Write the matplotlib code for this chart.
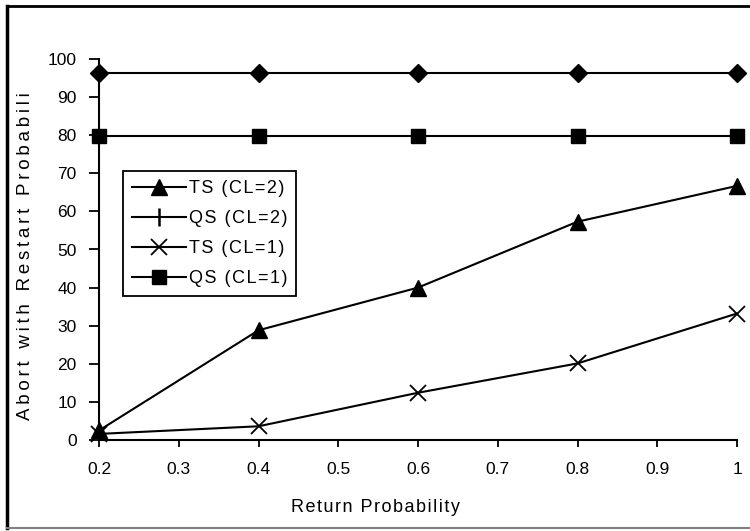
import matplotlib
matplotlib.use("Agg")
import matplotlib.pyplot as plt
from matplotlib.lines import Line2D

plt.rcParams['font.family'] = ['Liberation Sans', 'DejaVu Sans']

x = [0.2, 0.4, 0.6, 0.8, 1.0]
ts_cl2 = [2.5, 28.8, 40.0, 57.3, 66.7]
qs_cl2 = [96.2, 96.2, 96.2, 96.2, 96.2]
ts_cl1 = [1.6, 3.6, 12.4, 20.1, 33.2]
qs_cl1 = [79.8, 79.8, 79.8, 79.8, 79.8]

labels = ["TS (CL=2)", "QS (CL=2)", "TS (CL=1)", "QS (CL=1)"]
xticks = [0.2, 0.3, 0.4, 0.5, 0.6, 0.7, 0.8, 0.9, 1.0]
xticklabels = ["0.2", "0.3", "0.4", "0.5", "0.6", "0.7", "0.8", "0.9", "1"]
yticks = [0, 10, 20, 30, 40, 50, 60, 70, 80, 90, 100]

HS = "\u200a"

fig = plt.figure(figsize=(7.5, 5.31), dpi=100)
ax = fig.add_axes([99/750, 1-440/531, (737-99)/750, (440-59)/531])

lw = 1.5
ax.plot(x, qs_cl2, color='black', lw=lw, marker='D', ms=9.5, clip_on=False, zorder=3)
ax.plot(x, qs_cl1, color='black', lw=lw, marker='s', ms=10.5, clip_on=False, zorder=3)
ax.plot(x, ts_cl2, color='black', lw=lw, marker='^', ms=11, clip_on=False, zorder=3)
ax.plot(x, ts_cl1, color='black', lw=lw, marker='x', ms=11, mew=1.3, clip_on=False, zorder=3)

ax.set_xlim(0.2, 1.0)
ax.set_ylim(0, 100)
ax.set_xticks(xticks)
ax.set_xticklabels(xticklabels)
ax.set_yticks(yticks)
for s in ['top', 'right']:
    ax.spines[s].set_visible(False)
for s in ['left', 'bottom']:
    ax.spines[s].set_linewidth(1.5)
ax.tick_params(axis='y', direction='out', length=7, width=1.3, pad=9, labelsize=12.5)
ax.tick_params(axis='x', direction='out', length=5, width=1.3, pad=11, labelsize=12.5)

handles = [
    Line2D([], [], color='black', lw=lw, marker='^', ms=11),
    Line2D([], [], color='black', lw=lw, marker='|', ms=13, mew=1.8),
    Line2D([], [], color='black', lw=lw, marker='x', ms=11, mew=1.3),
    Line2D([], [], color='black', lw=lw, marker='s', ms=10.5),
]
leg_labels = [HS.join(l) for l in labels]
leg = ax.legend(handles, leg_labels, loc='upper left', bbox_to_anchor=((123-99)/638, (440-171)/381),
                frameon=True, fancybox=False, edgecolor='black', framealpha=1,
                fontsize=13, handlelength=3.0, handletextpad=0.15, labelspacing=0.72,
                borderpad=0.5, borderaxespad=0)
leg.get_frame().set_linewidth(1.3)

ylabel = "\u2009".join("Abort with Restart Probabili")
fig.text(26/750, 1-256/531, ylabel, rotation=90, ha='center', va='center', fontsize=13.5)
fig.text(0.5, 1-507/531, HS.join("Return Probability"), ha='center', va='center', fontsize=13)

# outer border
fig.add_artist(Line2D([7/750, 7/750], [0.006, 1-6/531], color='black', lw=2.5, transform=fig.transFigure))
fig.add_artist(Line2D([7/750, 1.0], [1-6/531, 1-6/531], color='black', lw=2.0, transform=fig.transFigure))
fig.add_artist(Line2D([7/750, 1.0], [1-528/531, 1-528/531], color='#808080', lw=1.5, transform=fig.transFigure))

fig.savefig("out.png", dpi=100)
